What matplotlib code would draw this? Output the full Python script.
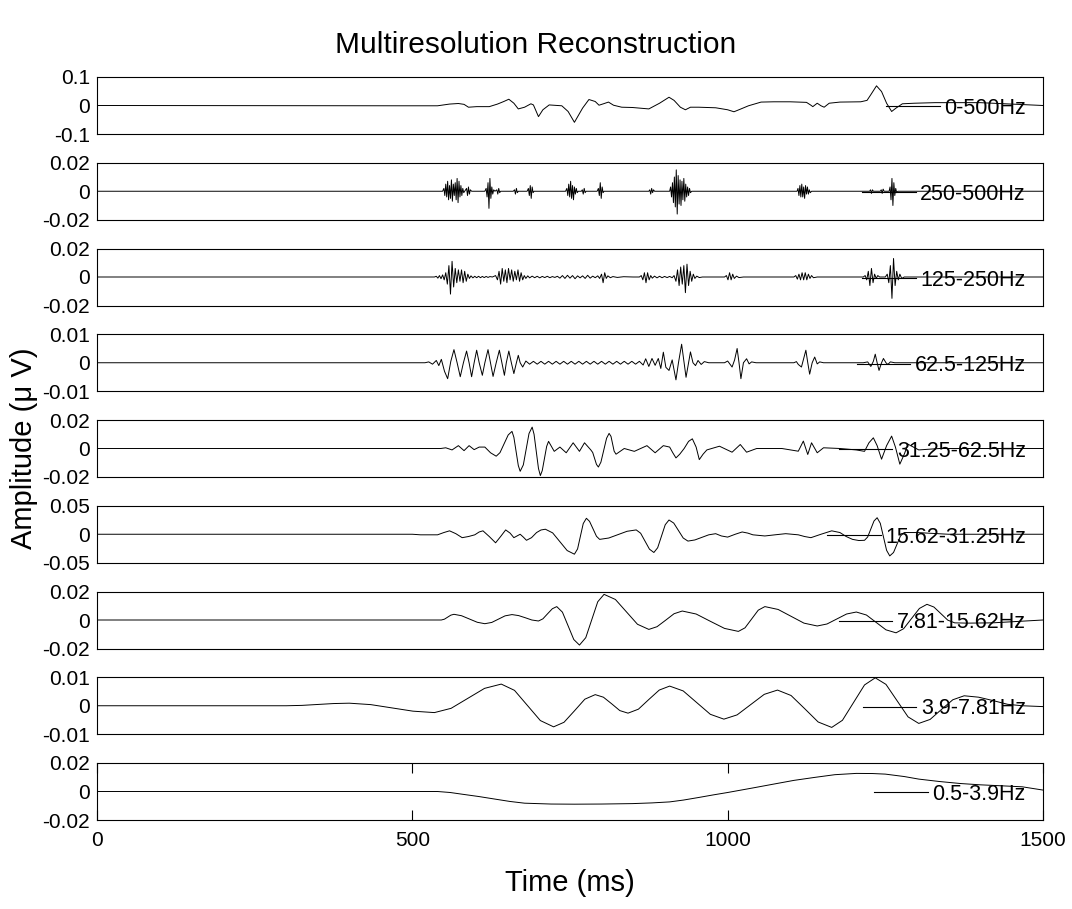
import matplotlib
matplotlib.use("Agg")
import matplotlib.pyplot as plt
from matplotlib.lines import Line2D

plt.rcParams["font.family"] = ["Liberation Sans", "DejaVu Sans"]

# ===================== DATA =====================
# each band: (time ms, amplitude) points
BANDS = ["0-500Hz", "250-500Hz", "125-250Hz", "62.5-125Hz", "31.25-62.5Hz",
         "15.62-31.25Hz", "7.81-15.62Hz", "3.9-7.81Hz", "0.5-3.9Hz"]
YLIMS = [0.1, 0.02, 0.02, 0.01, 0.02, 0.05, 0.02, 0.01, 0.02]
YTICKLABELS = [["-0.1", "0", "0.1"], ["-0.02", "0", "0.02"], ["-0.02", "0", "0.02"],
               ["-0.01", "0", "0.01"], ["-0.02", "0", "0.02"], ["-0.05", "0", "0.05"],
               ["-0.02", "0", "0.02"], ["-0.01", "0", "0.01"], ["-0.02", "0", "0.02"]]
XTICKS = [0, 500, 1000, 1500]

P1 = [(0, 0), (480, -0.001), (540, -0.001), (559, 0.005), (573, 0.007), (582, 0.004),
      (589, -0.006), (602, -0.004), (622, -0.004), (635, 0.005), (645, 0.014),
      (653, 0.022), (661, 0.008), (668, -0.012), (678, -0.006), (688, 0.006),
      (692, 0.002), (700, -0.039), (707, -0.015), (717, 0.002), (737, -0.001),
      (747, -0.021), (757, -0.059), (770, -0.009), (780, 0.021), (790, 0.014),
      (796, 0.001), (803, 0.006), (811, 0.012), (819, 0.001), (832, -0.006),
      (849, -0.007), (875, -0.012), (892, 0.008), (907, 0.029), (915, 0.018),
      (925, -0.006), (933, -0.015), (941, -0.006), (954, -0.006), (981, -0.008),
      (1000, -0.015), (1010, -0.022), (1020, -0.013), (1033, -0.001), (1053, 0.012),
      (1073, 0.013), (1099, 0.013), (1125, 0.011), (1132, 0.001), (1135, -0.004),
      (1142, 0.008), (1148, -0.001), (1153, -0.006), (1161, 0.008), (1178, 0.012),
      (1211, 0.013), (1221, 0.018), (1227, 0.038), (1236, 0.069), (1244, 0.049),
      (1252, 0.008), (1260, -0.021), (1267, -0.009), (1277, 0.006), (1296, 0.008),
      (1329, 0.010), (1400, 0.010), (1460, 0.004), (1500, 0)]

P2 = [(0, 0), (548, 0),
      (550, 0.002), (551.5, -0.003), (553, 0.005), (554.5, -0.004), (556, 0.007),
      (557.5, -0.006), (559, 0.004), (560.5, -0.005), (562, 0.008), (563.5, -0.007),
      (565, 0.005), (566.5, -0.003), (568, 0.006), (569.5, -0.006), (571, 0.009),
      (572.5, -0.008), (574, 0.007), (575.5, -0.004), (577, 0.004), (578.5, -0.003),
      (580, 0.002), (581.5, -0.001), (583, 0),
      (586, 0.002), (587.5, -0.003), (589, 0.003), (590.5, -0.002), (592, 0.001), (594, 0),
      (615, 0), (617, 0.002), (618.5, -0.004), (620, 0.006), (621.5, -0.012), (623, 0.009),
      (624.5, -0.005), (626, 0.003), (627.5, -0.002), (629, 0.001), (631, 0),
      (634, 0.001), (635.5, -0.002), (637, 0.002), (638.5, -0.001), (640, 0),
      (660, 0), (662, 0.001), (663.5, -0.002), (665, 0.002), (666.5, -0.001), (668, 0),
      (682, 0), (684, 0.002), (685.5, -0.003), (687, 0.004), (688.5, -0.005), (690, 0.003),
      (691.5, -0.001), (693, 0),
      (743, 0), (745, 0.002), (746.5, -0.003), (748, 0.005), (749.5, -0.004), (751, 0.007),
      (752.5, -0.005), (754, 0.004), (755.5, -0.006), (757, 0.003), (758.5, -0.002),
      (760, 0.002), (761.5, -0.001), (763, 0),
      (768, 0), (769.5, 0.001), (771, -0.002), (772.5, 0.002), (774, -0.001), (775.5, 0),
      (793, 0), (795, 0.002), (796.5, -0.003), (798, 0.006), (799.5, -0.005), (801, 0.003),
      (802.5, -0.001), (804, 0),
      (875, 0), (876.5, 0.001), (878, -0.002), (879.5, 0.002), (881, -0.001), (882.5, 0.001),
      (884, 0),
      (908, 0), (909.5, 0.003), (911, -0.004), (912.5, 0.006), (914, -0.008), (915.5, 0.010),
      (917, -0.011), (918.5, 0.015), (920, -0.016), (921.5, 0.011), (923, -0.009),
      (924.5, 0.008), (926, -0.010), (927.5, 0.007), (929, -0.006), (930.5, 0.009),
      (932, -0.007), (933.5, 0.005), (935, -0.004), (936.5, 0.003), (938, -0.003),
      (939.5, 0.002), (941, -0.001), (943, 0),
      (1110, 0), (1111.5, 0.002), (1113, -0.003), (1114.5, 0.004), (1116, -0.004),
      (1117.5, 0.005), (1119, -0.004), (1120.5, 0.003), (1122, -0.005), (1123.5, 0.004),
      (1125, -0.002), (1126.5, 0.003), (1128, -0.002), (1129.5, 0.001), (1131, -0.001),
      (1133, 0),
      (1225, 0), (1226.5, 0.001), (1228, -0.0015), (1229.5, 0.001), (1231, 0),
      (1242, 0), (1243.5, 0.001), (1245, -0.0015), (1246.5, 0.0015), (1248, 0),
      (1256, 0), (1257.5, 0.003), (1259, -0.006), (1260.5, 0.009), (1262, -0.010),
      (1263.5, 0.006), (1265, -0.003), (1266.5, 0.002), (1268, -0.001), (1270, 0),
      (1500, 0)]

P3 = [(0, 0), (535, 0),
      (538, 0.0005), (540.5, -0.0008), (543, 0.001), (545.5, -0.0012), (548, 0.0015),
      (550.5, -0.002), (553, 0.003), (555.5, -0.005), (558, 0.008), (560.5, -0.012),
      (563, 0.011), (565.5, -0.007), (568, 0.006), (570.5, -0.004), (573, 0.005),
      (575.5, -0.003), (578, 0.005), (580.5, -0.004), (583, 0.004), (585.5, -0.003),
      (588, 0.002), (590.5, -0.001), (593, 0.0008), (596, -0.0006), (599, 0.0005),
      (602, -0.0005), (605, 0.0005), (608, -0.0005), (611, 0.0004), (614, -0.0004),
      (617, 0.0004), (620, -0.0003), (623, 0.0003), (627, 0), (632, 0.001),
      (635, -0.002), (637.5, 0.004), (640, -0.005), (642.5, 0.006), (645, -0.003),
      (647.5, 0.005), (650, -0.004), (652.5, 0.006), (655, -0.002), (657.5, 0.005),
      (660, -0.003), (662.5, 0.004), (665, -0.002), (667.5, 0.005), (670, -0.003),
      (672.5, 0.003), (675, -0.002), (677.5, 0.001), (680, -0.001), (683, 0.0008),
      (686, -0.0006), (690, 0.0006), (694, -0.0005), (698, 0.0005), (702, -0.0006),
      (706, 0.0004), (710, -0.0004), (714, 0.0005), (718, -0.0005), (722, 0.0003),
      (726, -0.0003), (730, 0.0005), (734, -0.0008), (738, 0.001), (742, -0.001),
      (746, 0.0012), (750, -0.0008), (754, 0.001), (758, -0.0012), (762, 0.0008),
      (766, -0.0006), (770, 0.0008), (774, -0.001), (778, 0.0012), (782, -0.0008),
      (786, 0.0006), (790, -0.0005), (794, 0.0008), (797, -0.001), (800, 0.002),
      (802.5, -0.004), (805, 0.003), (807.5, -0.001), (810, 0.0008), (814, -0.0005),
      (818, 0.0003), (825, -0.0003), (835, 0.0002), (850, 0),
      (860, 0), (863, 0.001), (865.5, -0.002), (868, 0.003), (870.5, -0.004), (873, 0.003),
      (875.5, -0.002), (878, 0.001), (880.5, -0.0008), (884, 0.0006), (888, -0.0006),
      (892, 0.0005), (896, -0.0005), (900, 0.0004), (904, -0.0004), (908, 0.0004),
      (912, -0.0005), (915, 0.001), (918, -0.003), (920.5, 0.005), (923, -0.006),
      (925.5, 0.007), (928, -0.005), (930.5, 0.008), (933, -0.011), (935.5, 0.009),
      (938, -0.006), (940.5, 0.004), (943, -0.003), (945.5, 0.002), (948, -0.001),
      (951, 0.0006), (955, -0.0004), (960, 0),
      (995, 0), (998, 0.001), (1000.5, -0.002), (1003, 0.003), (1005.5, -0.002),
      (1008, 0.002), (1010.5, -0.001), (1014, 0.0006), (1018, -0.0004), (1025, 0),
      (1105, 0), (1108, 0.001), (1110.5, -0.0015), (1113, 0.002), (1115.5, -0.002),
      (1118, 0.003), (1120.5, -0.002), (1123, 0.003), (1125.5, -0.002), (1128, 0.002),
      (1130.5, -0.001), (1133, 0.001), (1136, -0.0005), (1142, 0),
      (1215, 0), (1218, 0.001), (1220.5, -0.002), (1223, 0.004), (1225.5, -0.006),
      (1228, 0.006), (1230.5, -0.004), (1233, 0.002), (1235.5, -0.001), (1238, 0.001),
      (1241, 0), (1250, 0), (1253, 0.002), (1255.5, -0.004), (1258, 0.008),
      (1260.5, -0.015), (1263, 0.013), (1265.5, -0.006), (1268, 0.004), (1270.5, -0.002),
      (1273, 0.002), (1276, -0.001), (1280, 0), (1500, 0)]

P4 = [(0, 0), (520, 0), (526, 0.0003), (532, -0.0005), (538, 0.0008), (542, -0.001),
      (546, 0.0012), (551, -0.003), (556, -0.0056), (561, 0.0005), (566, 0.0046),
      (571, 0), (576, -0.0049), (581, 0), (586, 0.0041), (590, 0), (594, -0.0049),
      (598, 0), (602, 0.0044), (606, 0), (611, -0.0044), (615, 0), (620, 0.0046),
      (624, 0), (628, -0.0048), (633, 0), (638, 0.0044), (642, 0), (646, -0.0044),
      (649, 0), (653, 0.0041), (657, 0), (661, -0.0038), (665, 0), (668, 0.0026),
      (671, 0), (675, -0.0015),
      (680, 0.0006), (686, -0.0005), (692, 0.0005), (698, -0.0005), (704, 0.0005),
      (710, -0.0005), (716, 0.0005), (722, -0.0005), (728, 0.0005), (734, -0.0005),
      (740, 0.0005), (746, -0.0005), (752, 0.0005), (758, -0.0005), (764, 0.0005),
      (770, -0.0005), (776, 0.0005), (782, -0.0005), (788, 0.0005), (794, -0.0005),
      (800, 0.0005), (806, -0.0005), (812, 0.0005), (818, -0.0005), (824, 0.0005),
      (830, -0.0005), (836, 0.0005), (842, -0.0005), (848, 0.0005), (854, -0.0005),
      (860, 0.0005), (866, -0.0008), (870, 0.0014), (875, -0.0013), (880, 0.0015),
      (885, -0.0009), (890, 0.0015), (894, -0.002), (898, 0.0037), (902, -0.0016),
      (907, -0.0027), (912, 0.001), (918, -0.006), (922, 0), (927, 0.0065), (931, 0),
      (934, -0.0051), (938, 0), (941, 0.0038), (945, 0), (949, -0.001), (953, 0.0008),
      (958, -0.0006), (963, 0.0004), (970, 0),
      (995, 0), (1000, 0.0006), (1004, -0.0006), (1007, -0.0015), (1011, 0.001),
      (1015, 0.005), (1018, 0), (1021, -0.0056), (1025, 0), (1030, 0.0014),
      (1034, -0.0004), (1038, 0.0003), (1045, 0),
      (1105, 0), (1109, 0.0004), (1112, -0.0006), (1117, -0.0015), (1120, 0.001),
      (1124, 0.0044), (1127, 0), (1130, -0.004), (1134, 0), (1138, 0.002),
      (1142, -0.0004), (1146, 0.0003), (1152, 0),
      (1215, 0), (1222, 0.0003), (1227, -0.0013), (1231, 0.0005), (1234, 0.003),
      (1237, 0), (1240, -0.0027), (1244, 0), (1247, 0.0015), (1251, 0),
      (1254, -0.0006), (1258, 0.0003), (1265, 0), (1500, 0)]

P5 = [(0, 0), (545, 0), (553, 0.0005), (563, -0.001), (573, 0.002), (582, -0.0015),
      (590, 0.002), (598, -0.0008), (606, 0.001), (615, 0.001), (624, -0.003),
      (633, -0.0054), (639, -0.0029), (645.5, 0.0033), (652, 0.0095), (658, 0.012),
      (661, 0.0079), (664.5, -0.002), (668, -0.0119), (671, -0.016), (676, -0.0115),
      (680.5, -0.0005), (685, 0.0105), (690, 0.015), (693, 0.010), (696.5, -0.002),
      (700, -0.014), (703, -0.019), (706, -0.0155), (709.5, -0.007), (713, 0.0015),
      (716, 0.005), (725, -0.002), (734, 0.001), (744, -0.003), (755, 0.004),
      (765, -0.002), (773, 0.004), (783, -0.001), (786, -0.0028), (789, -0.007),
      (792, -0.0112), (795, -0.013), (799, -0.0096), (803.5, -0.0012), (808, 0.0072),
      (812, 0.0106), (815, 0.0085), (817.5, 0.0033), (820, -0.0019), (823, -0.004),
      (836, 0), (852, -0.002), (872, 0.002), (885, -0.003), (898, 0.002), (908, 0.001),
      (913, -0.003), (918, -0.0066), (924, -0.004), (931, 0), (938, 0.005),
      (944, 0.0068), (950, 0.001), (955, -0.0078), (961, -0.004), (967, -0.001),
      (987, 0.0016), (1007, -0.0026), (1020, 0.0028), (1030, -0.0026), (1046, 0),
      (1086, 0), (1112, -0.0019), (1120, 0.0052), (1127, -0.0042), (1133, 0.004),
      (1142, -0.003), (1152, 0.0005), (1178, 0), (1204, -0.001), (1217, -0.002),
      (1224, 0.004), (1231, 0.0075), (1237, 0.002), (1244, -0.0075), (1252, 0.002),
      (1260, 0.0087), (1266, 0.001), (1273, -0.011), (1280, -0.004), (1286, 0.003),
      (1303, -0.001), (1336, 0), (1500, 0)]

P6 = [(0, 0), (500, 0), (513, -0.001), (540, -0.001), (550, 0.003), (559, 0.006),
      (569, 0.001), (579, -0.006), (589, -0.004), (599, -0.001), (606, 0.004),
      (612, 0.006), (622, -0.004), (632, -0.015), (640, -0.004), (648, 0.0076),
      (655, 0.002), (661, -0.006), (666, -0.003), (671, 0), (676, -0.005),
      (681, -0.0106), (689, -0.006), (697, 0.003), (704, 0.0075), (711, 0.0088),
      (722.5, 0.0024), (734, -0.0131), (745.5, -0.0286), (757, -0.035),
      (762, -0.0258), (766.5, -0.0035), (771, 0.0188), (776, 0.028), (781, 0.0226),
      (786.5, 0.0095), (792, -0.0036), (797, -0.009), (811.5, -0.0066),
      (826, -0.0007), (840.5, 0.0052), (855, 0.0076), (862, 0.0018), (869, -0.0122),
      (876, -0.0262), (883, -0.032), (889, -0.0237), (895, -0.0035), (901, 0.0167),
      (907, 0.025), (914.5, 0.0196), (922, 0.0065), (929.5, -0.0066), (937, -0.012),
      (948, -0.010), (959, -0.0055), (970, -0.001), (981, 0.001), (990, -0.003),
      (1000, -0.005), (1012, 0), (1023, 0.004), (1032, 0.002), (1040, -0.001),
      (1059, -0.003), (1075, -0.001), (1092, 0.001), (1112, -0.001), (1122, -0.004),
      (1132, -0.006), (1148, 0), (1165, 0.006), (1178, 0.003), (1188, -0.004),
      (1198, -0.009), (1208, -0.011), (1217, -0.0106), (1222, -0.0048), (1227, 0.0092),
      (1232, 0.0232), (1237, 0.029), (1242, 0.0192), (1247, -0.0045), (1252, -0.0282),
      (1257, -0.038), (1263, -0.032), (1268.5, -0.0175), (1274, -0.003), (1280, 0.003),
      (1300, 0.003), (1350, 0), (1500, 0)]

P7 = [(0, 0), (546, 0), (551, 0.0006), (556, 0.002), (561, 0.0034), (566, 0.004),
      (578, 0.003), (590.5, 0.0007), (603, -0.0016), (615, -0.0026), (626, -0.0017),
      (636.5, 0.0006), (647, 0.0029), (658, 0.0038), (668.5, 0.0031), (679, 0.0016),
      (689.5, 0), (700, -0.0007), (707, 0.0008), (714.5, 0.0044), (722, 0.0079),
      (729, 0.0094), (738, 0.0055), (747, -0.0041), (756, -0.0137), (765, -0.0176),
      (775, -0.0124), (784.5, 0.0002), (794, 0.0128), (804, 0.018), (822, 0.0144),
      (839.5, 0.0057), (857, -0.003), (875, -0.0066), (888, -0.0047), (901.5, -0.0002),
      (915, 0.0044), (928, 0.0063), (950, 0.0042), (972.5, -0.0009), (995, -0.0059),
      (1017, -0.008), (1027.5, -0.0055), (1038, 0.0007), (1048.5, 0.0069),
      (1059, 0.0094), (1080, 0.0074), (1100.5, 0.0026), (1121, -0.0022),
      (1142, -0.0042), (1157.5, -0.0028), (1173, 0.0007), (1188.5, 0.0042),
      (1204, 0.0056), (1220, 0.0035), (1235.5, -0.0017), (1251, -0.0069),
      (1267, -0.009), (1279, -0.0061), (1291.5, 0.001), (1304, 0.0081), (1316, 0.011),
      (1327, 0.0091), (1338, 0.0045), (1349, -0.0001), (1360, -0.002),
      (1380, -0.0022), (1420, -0.002), (1460, -0.001), (1500, 0)]

P8 = [(0, 0), (300, 0), (325, 0.00013), (350, 0.00045), (375, 0.00077), (400, 0.0009),
      (434, 0.0004), (467.5, -0.00075), (501, -0.0019), (535, -0.0024),
      (561.5, -0.0009), (588, 0.0026), (614.5, 0.0061), (641, 0.0076), (662, 0.0054),
      (682.5, 0.0001), (703, -0.0052), (724, -0.0074), (740.5, -0.0058),
      (757, -0.0018), (773.5, 0.0023), (790, 0.0039), (803, 0.003), (816, 0.0007),
      (829, -0.0017), (842, -0.0026), (858.5, -0.0012), (875, 0.0022), (891.5, 0.0055),
      (908, 0.0069), (929.5, 0.0052), (951, 0.0011), (972.5, -0.003), (994, -0.0047),
      (1015, -0.0032), (1036.5, 0.0004), (1058, 0.004), (1079, 0.0055),
      (1100.5, 0.0036), (1122, -0.001), (1143.5, -0.0057), (1165, -0.0076),
      (1182, -0.0051), (1199.5, 0.0011), (1217, 0.0073), (1234, 0.0098),
      (1251, 0.0075), (1268.5, 0.0018), (1286, -0.0039), (1303, -0.0062),
      (1321, -0.0048), (1339, -0.0013), (1357, 0.0021), (1375, 0.0035), (1398, 0.003),
      (1421, 0.0018), (1444, 0.0005), (1467, 0), (1500, -0.0003)]

P9 = [(0, 0), (540, 0), (560, -0.0007), (579, -0.0019), (605, -0.0035), (632, -0.0054),
      (655, -0.007), (678, -0.0082), (720, -0.0088), (757, -0.0089), (800, -0.0088),
      (849, -0.0085), (880, -0.008), (908, -0.0073), (930, -0.006), (954, -0.0042),
      (977, -0.0024), (1000, -0.0007), (1020, 0.0009), (1040, 0.0025), (1073, 0.0052),
      (1105, 0.0078), (1138, 0.0099), (1170, 0.0118), (1204, 0.0127), (1230, 0.0126),
      (1250, 0.0122), (1280, 0.0105), (1303, 0.0087), (1336, 0.007), (1369, 0.0056),
      (1400, 0.0047), (1434, 0.004), (1467, 0.0033), (1500, 0.001)]

SIGNALS = [P1, P2, P3, P4, P5, P6, P7, P8, P9]

# ===================== PLOT =====================
W, H = 1072, 909
fig = plt.figure(figsize=(W / 100, H / 100), dpi=100)

for i, (pts, lab, lim, ylabs) in enumerate(zip(SIGNALS, BANDS, YLIMS, YTICKLABELS)):
    top = 77 + 85.75 * i
    ax = fig.add_axes([97 / W, 1 - (top + 57) / H, 946 / W, 57 / H])
    t = [p[0] for p in pts]
    v = [p[1] for p in pts]
    ax.plot(t, v, color="k", lw=0.7)
    ax.set_xlim(0, 1500)
    ax.set_ylim(-lim, lim)
    ax.set_yticks([-lim, 0, lim])
    ax.set_yticklabels(ylabs)
    ax.tick_params(axis="y", length=0, pad=5, labelsize=15)
    for s in ax.spines.values():
        s.set_linewidth(0.8)
    if i == len(SIGNALS) - 1:
        ax.set_xticks(XTICKS)
        ax.set_xticklabels([str(x) for x in XTICKS])
        ax.tick_params(axis="x", direction="in", length=7, width=0.8,
                       top=True, pad=8, labelsize=15)
    else:
        ax.set_xticks([])
    # legend without box, sample line sitting on the zero level
    h = Line2D([], [], color="k", lw=0.8)
    ax.legend(handles=[h], labels=[lab], loc="center right",
              bbox_to_anchor=(1, 0.5 - 3 / 57), frameon=False,
              fontsize=15.5, handlelength=2.5, handletextpad=0.2,
              borderpad=0, borderaxespad=0.8)

fig.text(0.5, 1 - 45 / H, "Multiresolution Reconstruction", ha="center",
         va="center", fontsize=21.5)
fig.text(570 / W, 1 - 883 / H, "Time (ms)", ha="center", va="center", fontsize=21)
fig.text(24 / W, 1 - 448 / H, "Amplitude (μ V)", ha="center", va="center",
         rotation=90, fontsize=21)

fig.savefig("out.png", dpi=100)
